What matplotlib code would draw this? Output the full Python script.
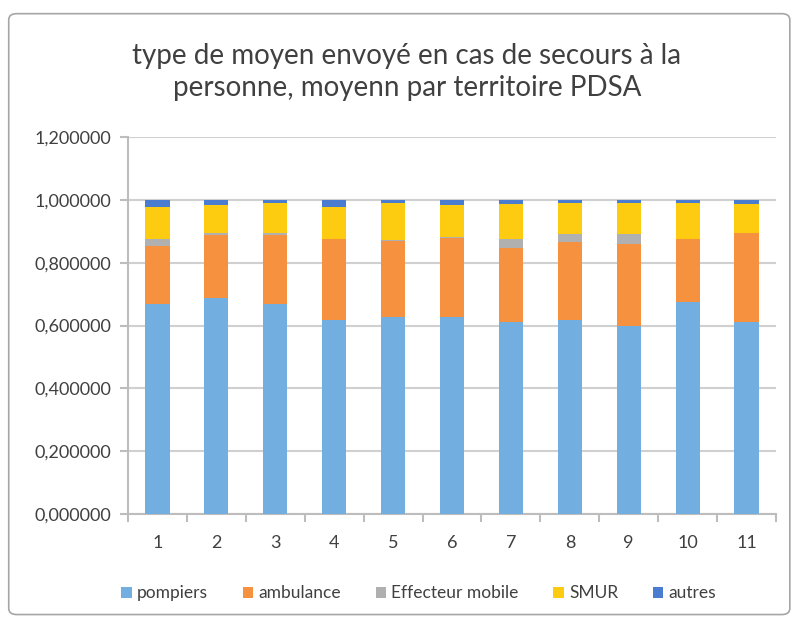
import matplotlib
matplotlib.use("Agg")
import matplotlib.pyplot as plt
import numpy as np
from matplotlib.patches import FancyBboxPatch

plt.rcParams['font.family'] = ['Lato', 'DejaVu Sans']

territoires = ["1", "2", "3", "4", "5", "6", "7", "8", "9", "10", "11"]

pompiers = [0.670, 0.688, 0.670, 0.616, 0.628, 0.628, 0.612, 0.617, 0.598, 0.675, 0.612]
ambulance = [0.183, 0.200, 0.218, 0.258, 0.240, 0.250, 0.236, 0.250, 0.263, 0.199, 0.281]
effecteur = [0.021, 0.008, 0.008, 0.002, 0.003, 0.004, 0.026, 0.023, 0.029, 0.003, 0.003]
smur = [0.104, 0.088, 0.093, 0.102, 0.120, 0.102, 0.114, 0.099, 0.101, 0.114, 0.092]
autres = [0.022, 0.016, 0.011, 0.022, 0.009, 0.016, 0.012, 0.011, 0.009, 0.009, 0.012]

series = [
    ("pompiers", pompiers, "#72AEDF"),
    ("ambulance", ambulance, "#F6913F"),
    ("Effecteur mobile", effecteur, "#B0B0B0"),
    ("SMUR", smur, "#FDCB10"),
    ("autres", autres, "#4A7DCF"),
]

fig = plt.figure(figsize=(7.93, 6.22), dpi=100)

# chart border like excel
border = FancyBboxPatch((0.011, 0.012), 0.985, 0.966, boxstyle="round,pad=0,rounding_size=0.01",
                        transform=fig.transFigure, fill=False, edgecolor="#A6A6A6", linewidth=1.2)
fig.patches.append(border)

ax = fig.add_axes([0.1614, 0.1736, 0.8172, 0.6061])

x = np.arange(len(territoires))
bottom = np.zeros(len(territoires))
for name, vals, col in series:
    ax.bar(x, vals, width=0.41, bottom=bottom, color=col, label=name, zorder=3)
    bottom += np.array(vals)

ax.set_xlim(-0.5, len(territoires) - 0.5)
ax.set_ylim(0, 1.2)
ax.set_yticks(np.arange(0, 1.21, 0.2))
ax.set_yticklabels(["{:.6f}".format(v).replace(".", ",") for v in np.arange(0, 1.21, 0.2)])
ax.set_xticks(x)
ax.set_xticklabels(territoires)
ax.set_xticks(np.arange(-0.5, len(territoires), 1), minor=True)

ax.yaxis.grid(True, color="#D0D0D0", linewidth=1.5, zorder=0)
for s in ["top", "right"]:
    ax.spines[s].set_visible(False)
ax.spines["left"].set_color("#BDBDBD")
ax.spines["bottom"].set_color("#BDBDBD")
ax.spines["left"].set_linewidth(1.5)
ax.spines["bottom"].set_linewidth(1.5)

ax.tick_params(axis="x", which="major", length=0, pad=15, labelsize=13, labelcolor="#404040")
ax.tick_params(axis="x", which="minor", length=6, width=1.5, color="#BDBDBD", direction="out")
ax.tick_params(axis="y", length=6, width=1.5, color="#BDBDBD", pad=6, labelsize=13, labelcolor="#404040")

fig.text(0.513, 0.884, "type de moyen envoyé en cas de secours à la\npersonne, moyenn par territoire PDSA",
         ha="center", va="center", fontsize=20, color="#404040", linespacing=1.3)

leg = fig.legend(loc="center", bbox_to_anchor=(0.528, 0.046), ncol=5, frameon=False,
                 fontsize=12.5, handlelength=0.6, handleheight=0.6, handletextpad=0.3,
                 columnspacing=2.0, labelcolor="#404040")

fig.savefig("out.png", dpi=100)
